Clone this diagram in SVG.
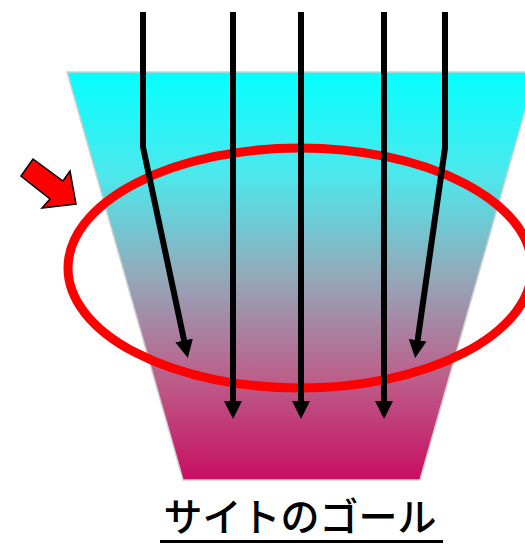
<svg xmlns="http://www.w3.org/2000/svg" width="525" height="544" viewBox="0 0 525 544">
  <defs>
    <linearGradient id="funnelGrad" x1="0" y1="72" x2="0" y2="480" gradientUnits="userSpaceOnUse">
      <stop offset="0" stop-color="#05FFFF"/>
      <stop offset="0.25" stop-color="#4DE8EC"/>
      <stop offset="0.5" stop-color="#93A9BA"/>
      <stop offset="0.75" stop-color="#BC5F8A"/>
      <stop offset="1" stop-color="#C80E62"/>
    </linearGradient>
    <marker id="head" viewBox="0 -9 18 18" refX="1" refY="0" markerWidth="18" markerHeight="18" markerUnits="userSpaceOnUse" orient="auto">
      <path d="M0,-9 L18,0 L0,9 z" fill="#000"/>
    </marker>
  </defs>
  <style>
    .flow { fill: none; stroke: #000; stroke-width: 6; stroke-linejoin: miter; marker-end: url(#head); }
    .label { font-family: "Noto Sans CJK JP", "Noto Sans", sans-serif; font-size: 39px; font-weight: 500; fill: #000; }
  </style>

  <g id="funnel">
    <polygon points="67,72 536,72 420,480 183,480" fill="url(#funnelGrad)" stroke="#D0D0D0" stroke-width="1.5"/>
  </g>

  <g id="focus-ellipse">
    <ellipse cx="300" cy="268" rx="232" ry="120" fill="none" stroke="#FF0000" stroke-width="9"/>
  </g>

  <g id="pointer-arrow">
    <polygon points="21,176 33,159 63,181 70,171 76,204 42,208 50,199" fill="#FF0000" stroke="#000" stroke-width="1.5" stroke-linejoin="miter"/>
  </g>

  <g id="connectors">
    <polyline class="flow" points="143,12 143,147 184.3,341.4"/>
    <polyline class="flow" points="233,12 233,402"/>
    <polyline class="flow" points="301,12 301,402"/>
    <polyline class="flow" points="384,12 384,402"/>
    <polyline class="flow" points="445,12 445,148 417.5,341.2"/>
  </g>

  <g id="goal-label">
    <text class="label" x="300" y="531" text-anchor="middle">サイトのゴール</text>
    <line x1="160" y1="541.5" x2="443" y2="541.5" stroke="#000" stroke-width="3"/>
  </g>
</svg>
